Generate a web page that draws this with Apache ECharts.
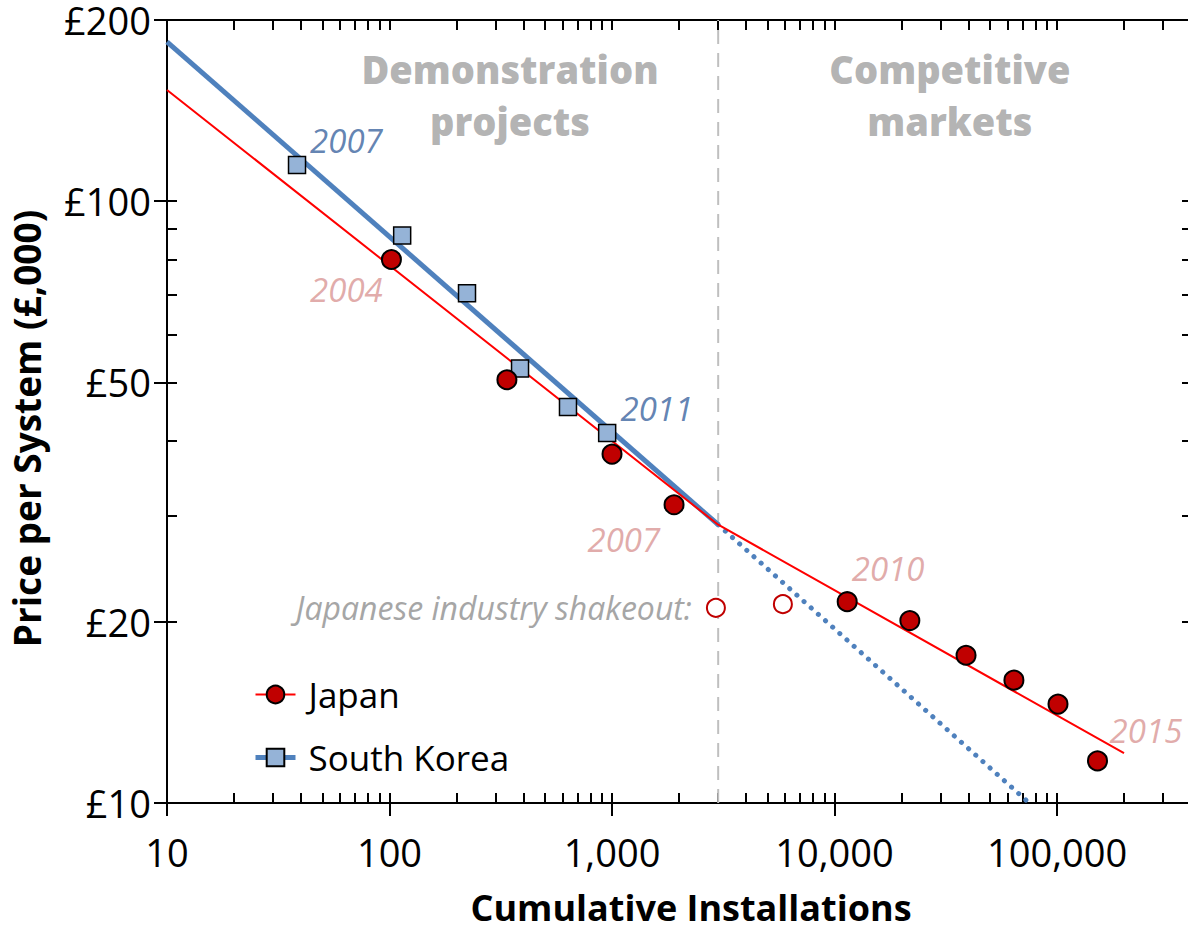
<!DOCTYPE html>
<html>
<head>
<meta charset="utf-8">
<title>Price per System vs Cumulative Installations</title>
<script src="https://cdn.jsdelivr.net/npm/echarts@6/dist/echarts.min.js"></script>
<style>
  html, body { margin: 0; padding: 0; background: #fff; overflow: hidden; }
  #chart { width: 1188px; height: 925px; overflow: hidden; }
</style>
</head>
<body>
<div id="chart"></div>
<script>
// Japan: cumulative installations and price per system (£,000)
const japanInstalls = [102, 337, 1000, 1900, 11400, 21800, 39000, 64000, 101000, 152000];
const japanPrices   = [80, 50.5, 38, 31.3, 21.6, 20.1, 17.6, 16.0, 14.6, 11.75];

// Japan, industry shakeout years (hollow markers)
const shakeoutInstalls = [2930, 5860];
const shakeoutPrices   = [21.1, 21.4];

// South Korea
const koreaInstalls = [38.4, 114, 223, 386, 634, 951];
const koreaPrices   = [114.8, 87.7, 70.3, 52.7, 45.5, 41.2];

// Experience-curve fits
const japanTrendInstalls = [10, 3000, 200000];
const japanTrendPrices   = [153, 29, 12.1];
const koreaTrendInstalls = [10, 3000];
const koreaTrendPrices   = [184, 29];
const koreaProjInstalls  = [3000, 75000];
const koreaProjPrices    = [29, 10];

// Boundary between the two market phases
const phaseBoundary = 3000;

// Axis tick labels
const xTickLabels = [10, 100, 1000, 10000, 100000];
const yTickLabels = [10, 20, 50, 100, 200];

const zip = (xs, ys) => xs.map((x, i) => [x, ys[i]]);

// every 1..9 multiple of each decade inside the range
function logTicks(lo, hi) {
  const out = [];
  for (let p = Math.floor(Math.log10(lo)); p <= Math.ceil(Math.log10(hi)); p++) {
    for (let m = 1; m <= 9; m++) {
      const v = m * Math.pow(10, p);
      if (v >= lo - 1e-9 && v <= hi + 1e-9) out.push(v);
    }
  }
  return out;
}

const X_MIN = 10, X_MAX = 400000, Y_MIN = 10, Y_MAX = 200;
const FONT = '"Open Sans", "Noto Sans", sans-serif';
const BLACK = '#000';
const RED = '#FF0000', RED_FILL = '#C00000';
const BLUE = '#4F81BD', BLUE_FILL = '#95B3D7';
const BLUE_TEXT = '#3A639E', PINK_TEXT = '#D99694', GREY_TEXT = '#A6A6A6', HEAD_GREY = '#9F9F9F';

const fmtX = v => Math.round(v).toLocaleString('en-US');
const fmtY = v => '£' + Math.round(v);

const baseLog = (extra) => Object.assign({
  type: 'log', logBase: 10,
  splitLine: { show: false },
  minorTick: { show: false },
  minorSplitLine: { show: false }
}, extra);

// Year annotations, anchored in data coordinates
const notes = [
  { x: 64,     y: 126,  text: '2007', color: BLUE_TEXT },
  { x: 64,     y: 71.3, text: '2004', color: PINK_TEXT },
  { x: 1590,   y: 45.2, text: '2011', color: BLUE_TEXT },
  { x: 1130,   y: 27.4, text: '2007', color: PINK_TEXT },
  { x: 17400,  y: 24.5, text: '2010', color: PINK_TEXT },
  { x: 251000, y: 13.2, text: '2015', color: PINK_TEXT }
];

const chart = echarts.init(document.getElementById('chart'), null, { renderer: 'svg', width: 1188, height: 925 });

chart.setOption({
  animation: false,
  backgroundColor: '#fff',
  textStyle: { fontFamily: FONT },
  grid: { left: 167, top: 20, width: 1024, height: 783, containLabel: false, outerBoundsMode: 'none' },
  legend: {
    data: [
      { name: 'Japan', lineStyle: { width: 2 } },
      { name: 'South Korea', lineStyle: { width: 5 } }
    ],
    orient: 'vertical',
    left: 248, top: 672,
    itemWidth: 40, itemHeight: 22, itemGap: 28,
    textStyle: { fontSize: 35, color: BLACK, fontFamily: FONT, padding: [0, 0, 0, 8] },
    selectedMode: false
  },
  xAxis: [
    baseLog({
      position: 'bottom', min: X_MIN, max: X_MAX,
      axisLine: { show: true, lineStyle: { color: BLACK, width: 2 } },
      axisTick: { show: true, inside: false, length: 13, customValues: xTickLabels, lineStyle: { color: BLACK, width: 2 } },
      axisLabel: { show: true, customValues: xTickLabels, formatter: fmtX, fontSize: 38, color: BLACK, margin: 30, fontFamily: FONT },
      name: 'Cumulative Installations', nameLocation: 'middle', nameGap: 87,
      nameTextStyle: { fontSize: 36, lineHeight: 34, fontWeight: 'bold', color: BLACK, fontFamily: FONT, padding: [0, 0, 0, 24] }
    }),
    baseLog({
      position: 'bottom', min: X_MIN, max: X_MAX,
      axisLine: { show: false },
      axisTick: { show: true, inside: true, length: 10, customValues: logTicks(X_MIN, X_MAX), lineStyle: { color: BLACK, width: 2 } },
      axisLabel: { show: false }
    }),
    baseLog({
      position: 'top', min: X_MIN, max: X_MAX,
      axisLine: { show: true, lineStyle: { color: BLACK, width: 2 } },
      axisTick: { show: true, inside: true, length: 10, customValues: logTicks(X_MIN, X_MAX), lineStyle: { color: BLACK, width: 2 } },
      axisLabel: { show: false }
    })
  ],
  yAxis: [
    baseLog({
      position: 'left', min: Y_MIN, max: Y_MAX,
      axisLine: { show: true, lineStyle: { color: BLACK, width: 2 } },
      axisTick: { show: true, inside: false, length: 13, customValues: yTickLabels, lineStyle: { color: BLACK, width: 2 } },
      axisLabel: { show: true, customValues: yTickLabels, formatter: fmtY, fontSize: 38, lineHeight: 30, color: BLACK, margin: 16, fontFamily: FONT },
      name: 'Price per System (£,000)', nameLocation: 'middle', nameGap: 122, nameRotate: 90,
      nameTextStyle: { fontSize: 37, fontWeight: 'bold', color: BLACK, fontFamily: FONT, padding: [0, 34, 0, 0] }
    }),
    baseLog({
      position: 'left', min: Y_MIN, max: Y_MAX,
      axisLine: { show: false },
      axisTick: { show: true, inside: true, length: 10, customValues: logTicks(Y_MIN, Y_MAX), lineStyle: { color: BLACK, width: 2 } },
      axisLabel: { show: false }
    }),
    baseLog({
      position: 'right', min: Y_MIN, max: Y_MAX,
      axisLine: { show: true, lineStyle: { color: BLACK, width: 2 } },
      axisTick: { show: true, inside: true, length: 9, customValues: logTicks(Y_MIN, Y_MAX), lineStyle: { color: BLACK, width: 2 } },
      axisLabel: { show: false }
    })
  ],
  series: [
    {
      name: 'Japan', type: 'line', z: 3,
      data: zip(japanTrendInstalls, japanTrendPrices),
      showSymbol: false, symbol: 'circle', symbolSize: 20,
      itemStyle: { color: RED_FILL, borderColor: BLACK, borderWidth: 2 },
      lineStyle: { color: RED, width: 2 }
    },
    {
      name: 'South Korea', type: 'line', z: 2,
      data: zip(koreaTrendInstalls, koreaTrendPrices),
      showSymbol: false, symbol: 'rect', symbolSize: 18,
      itemStyle: { color: BLUE_FILL, borderColor: BLACK, borderWidth: 1.5 },
      lineStyle: { color: BLUE, width: 5 }
    },
    {
      name: 'South Korea projection', type: 'line', z: 2,
      data: zip(koreaProjInstalls, koreaProjPrices),
      showSymbol: false, symbol: 'none',
      lineStyle: { color: BLUE, width: 5, type: [0.1, 9.5], cap: 'round' }
    },
    {
      name: 'Phase boundary', type: 'line', z: 1, silent: true,
      data: [[phaseBoundary, Y_MIN], [phaseBoundary, Y_MAX]],
      showSymbol: false, symbol: 'none',
      lineStyle: { color: '#BFBFBF', width: 2, type: [14, 9] }
    },
    {
      name: 'South Korea', type: 'scatter', z: 5,
      data: zip(koreaInstalls, koreaPrices),
      symbol: 'rect', symbolSize: 17,
      itemStyle: { color: BLUE_FILL, borderColor: BLACK, borderWidth: 1.5, opacity: 1 }
    },
    {
      name: 'Japan', type: 'scatter', z: 6,
      data: zip(japanInstalls, japanPrices),
      symbol: 'circle', symbolSize: 19,
      itemStyle: { color: RED_FILL, borderColor: BLACK, borderWidth: 2, opacity: 1 }
    },
    {
      name: 'Industry shakeout', type: 'scatter', z: 6,
      data: zip(shakeoutInstalls, shakeoutPrices),
      symbol: 'circle', symbolSize: 18,
      itemStyle: { color: '#fff', borderColor: RED_FILL, borderWidth: 2, opacity: 1 },
      label: {
        show: true, position: 'left', distance: 14,
        formatter: p => p.dataIndex === 0 ? 'Japanese industry shakeout:' : '',
        fontSize: 32, fontStyle: 'italic', color: GREY_TEXT, fontFamily: FONT
      }
    },
    {
      name: 'Year labels', type: 'scatter', z: 7, silent: true,
      data: notes.map(n => ({ value: [n.x, n.y], label: { color: n.color } })),
      symbol: 'circle', symbolSize: 1,
      itemStyle: { color: 'rgba(0,0,0,0)' },
      label: {
        show: true, position: 'inside',
        formatter: p => notes[p.dataIndex].text,
        fontSize: 33, fontStyle: 'italic', fontFamily: FONT
      }
    },
    {
      name: 'Phase labels', type: 'scatter', z: 7, silent: true,
      data: [[348, 150], [33000, 150]],
      symbol: 'circle', symbolSize: 1,
      itemStyle: { color: 'rgba(0,0,0,0)' },
      label: {
        show: true, position: 'inside', align: 'center', verticalAlign: 'middle',
        formatter: p => p.dataIndex === 0 ? 'Demonstration\nprojects' : 'Competitive\nmarkets',
        fontSize: 38, fontWeight: 800, lineHeight: 52, color: HEAD_GREY, fontFamily: FONT
      }
    }
  ]
});
</script>
</body>
</html>
